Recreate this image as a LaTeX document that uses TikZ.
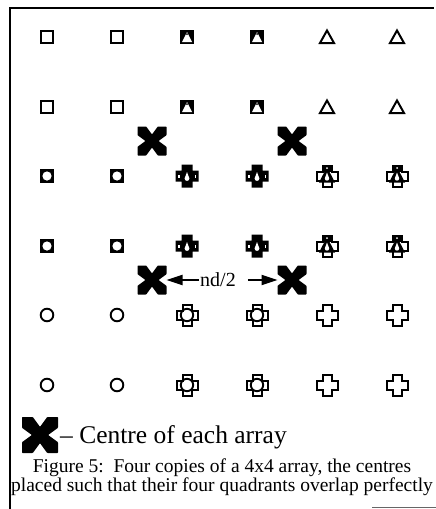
\documentclass[tikz,border=0pt]{standalone}
\usepackage{fontspec}
\setmainfont{Liberation Serif}
\usetikzlibrary{arrows.meta,positioning,calc}

\begin{document}
\begin{tikzpicture}[
  x=1pt, y=-1pt, >={Triangle[length=16pt,width=10pt]},
  mk/.style={line width=2pt, line join=miter},
  ctr/.style={minimum size=#1pt, inner sep=0pt, outer sep=0pt},
  arr/.style={->, line width=1.8pt},
  frame/.style={line width=1.4pt},
  lbl/.style={font=\fontsize{20}{24}\selectfont, inner sep=1pt},
  % the filled centre mark
  bigx/.pic={\fill[rounded corners=0.6pt]
      (-1,-1) -- (-0.4,-1) -- (0,-0.45) -- (0.4,-1) -- (1,-1) -- (1,-0.4) -- (0.45,0) -- (1,0.4)
      -- (1,1) -- (0.4,1) -- (0,0.45) -- (-0.4,1) -- (-1,1) -- (-1,0.4) -- (-0.45,0) -- (-1,-0.4) -- cycle;},
  % single marks of the four arrays
  sq/.pic={\draw[mk] (-6,-6) rectangle (6,6);},
  tri/.pic={\draw[mk] (-7,6) -- (7,6) -- (0,-6.5) -- cycle;},
  circ/.pic={\draw[line width=1.9pt] (0,0) circle (6.3);},
  crs/.pic={\draw[mk] (-4.5,-10.5) -- (4.5,-10.5) -- (4.5,-4.5) -- (10.5,-4.5) -- (10.5,4.5) -- (4.5,4.5)
    -- (4.5,10.5) -- (-4.5,10.5) -- (-4.5,4.5) -- (-10.5,4.5) -- (-10.5,-4.5) -- (-4.5,-4.5) -- cycle;},
  % overlapping marks
  sqtri/.pic={\fill (-7,-7) rectangle (7,7);
    \fill[white] (-5,5) -- (5,5) -- (0,-5) -- cycle; \fill (0,-3) circle (1);},
  sqcirc/.pic={\fill (-7,-7) rectangle (7,7); \fill[white] (0,0) circle (4.6);},
  circcrs/.pic={\pic {crs}; \draw[line width=1.9pt] (0,0) circle (6.2);},
  tricrs/.pic={\pic {crs}; \fill (-8,6.5) -- (8,6.5) -- (0,-9) -- cycle;
    \fill (-4.5,-11) rectangle (4.5,-4.5);
    \fill[white] (0,2.5) circle (2.2); \fill[white] (-2,2) -- (2,2) -- (0,-3.5) -- cycle;
    \fill[white] (0,-8) circle (1);},
  allfour/.pic={\fill (-5.5,-11.5) -- (5.5,-11.5) -- (5.5,-5.5) -- (11.5,-5.5) -- (11.5,5.5) -- (5.5,5.5)
    -- (5.5,11.5) -- (-5.5,11.5) -- (-5.5,5.5) -- (-11.5,5.5) -- (-11.5,-5.5) -- (-5.5,-5.5) -- cycle;
    \fill[white] (0,2.5) circle (2.4); \fill[white] (-2.2,2) -- (2.2,2) -- (0,-4) -- cycle;
    \fill[white] (-9,-1.5) rectangle (-7.5,1.5); \fill[white] (7.5,-1.5) rectangle (9,1.5);}
]
\def\cA{47} \def\cB{117} \def\cC{187} \def\cD{257} \def\cE{327} \def\cF{397}
\def\rA{37} \def\rB{107} \def\rC{176} \def\rD{246} \def\rE{315} \def\rF{385}

\useasboundingbox (0,0) rectangle (436,509);
\draw[frame] (10,509) -- (10,8) -- (434,8);
\draw[line width=1pt, black!60] (372,507) -- (436,507);

\pic at (\cA,\rA) {sq}; \pic at (\cB,\rA) {sq}; \pic at (\cC,\rA) {sqtri}; \pic at (\cD,\rA) {sqtri}; \pic at (\cE,\rA) {tri}; \pic at (\cF,\rA) {tri};
\pic at (\cA,\rB) {sq}; \pic at (\cB,\rB) {sq}; \pic at (\cC,\rB) {sqtri}; \pic at (\cD,\rB) {sqtri}; \pic at (\cE,\rB) {tri}; \pic at (\cF,\rB) {tri};
\pic at (\cA,\rC) {sqcirc}; \pic at (\cB,\rC) {sqcirc}; \pic at (\cC,\rC) {allfour}; \pic at (\cD,\rC) {allfour}; \pic at (\cE,\rC) {tricrs}; \pic at (\cF,\rC) {tricrs};
\pic at (\cA,\rD) {sqcirc}; \pic at (\cB,\rD) {sqcirc}; \pic at (\cC,\rD) {allfour}; \pic at (\cD,\rD) {allfour}; \pic at (\cE,\rD) {tricrs}; \pic at (\cF,\rD) {tricrs};
\pic at (\cA,\rE) {circ}; \pic at (\cB,\rE) {circ}; \pic at (\cC,\rE) {circcrs}; \pic at (\cD,\rE) {circcrs}; \pic at (\cE,\rE) {crs}; \pic at (\cF,\rE) {crs};
\pic at (\cA,\rF) {circ}; \pic at (\cB,\rF) {circ}; \pic at (\cC,\rF) {circcrs}; \pic at (\cD,\rF) {circcrs}; \pic at (\cE,\rF) {crs}; \pic at (\cF,\rF) {crs};

% centres of the four arrays
\node[ctr=29] (ctrsq)  at (152,141) {}; \pic[scale=14.5] at (ctrsq) {bigx};
\node[ctr=29] (ctrtri) at (292,141) {}; \pic[scale=14.5] at (ctrtri) {bigx};
\node[ctr=29] (ctrcir) at (152,280) {}; \pic[scale=14.5] at (ctrcir) {bigx};
\node[ctr=29] (ctrcrs) at (292,280) {}; \pic[scale=14.5] at (ctrcrs) {bigx};

\node[lbl] (half) at (218,280) {nd/2};
\draw[arr] (half.west) -- (ctrcir);
\draw[arr] ([xshift=11pt]half.east) -- (ctrcrs);

% key and caption
\node[ctr=36] (key) at (40,435) {}; \pic[scale=18] at (key) {bigx};
\node[font=\fontsize{25.5}{30}\selectfont, inner sep=0pt, anchor=base west] (keytxt) at (60,443)
  {-- Centre of each array};
\node[font=\fontsize{19.5}{19}\selectfont, align=center, inner sep=0pt] (cap) at (222,477)
  {Figure 5:\ \ Four copies of a 4x4 array, the centres\\placed such that their four quadrants overlap perfectly};
\end{tikzpicture}
\end{document}
